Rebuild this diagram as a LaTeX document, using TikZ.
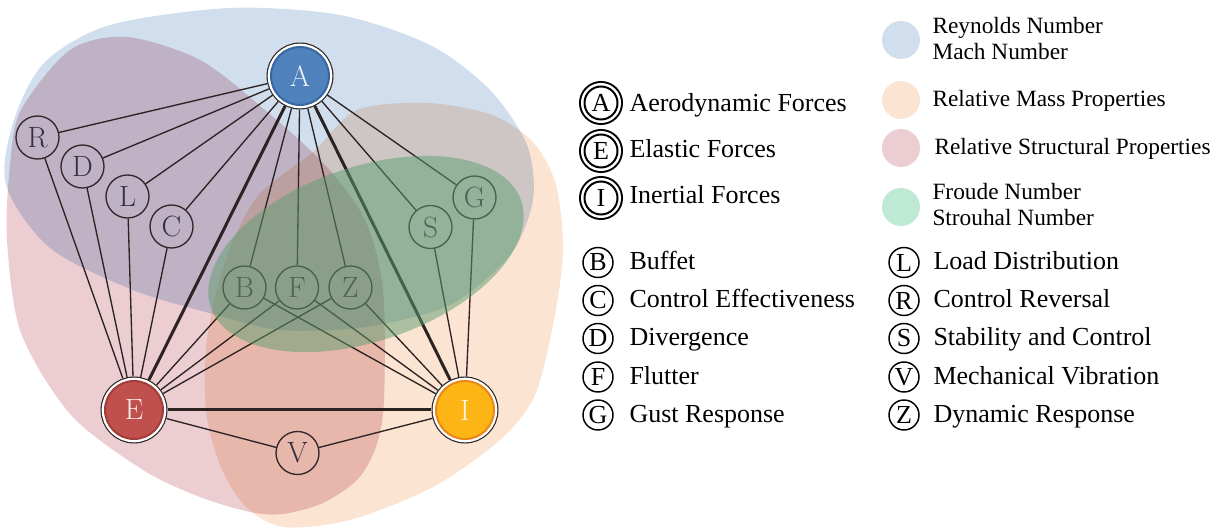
\documentclass[tikz,border=0pt]{standalone}
\usepackage{fontspec}
\newfontfamily\keyfont{Liberation Serif}

\definecolor{reyblue}{HTML}{D0DEEE}
\definecolor{massorange}{HTML}{FCE4D2}
\definecolor{structpink}{HTML}{EBCDD2}
\definecolor{froudegreen}{HTML}{BEE9D4}
\definecolor{froudeshade}{HTML}{5C9E70}
\definecolor{aerofill}{HTML}{4F81BD}
\definecolor{aeroedge}{HTML}{38679F}
\definecolor{elasfill}{HTML}{C0504D}
\definecolor{elasedge}{HTML}{A23C39}
\definecolor{inerfill}{HTML}{FDB515}
\definecolor{ineredge}{HTML}{EC8616}
\definecolor{linkcol}{HTML}{2B2222}
\definecolor{ringcol}{HTML}{2F2828}
\definecolor{lettercol}{HTML}{353040}

\tikzset{every picture/.style={line width=0.75pt}}

\begin{document}
\begin{tikzpicture}[x=0.75pt,y=0.75pt,yscale=-1,xscale=1,
  bignode/.style={circle, minimum size=43.5pt, inner sep=0pt, outer sep=3.4pt, line width=1.5pt,
    font=\fontsize{22}{26}\selectfont,
    preaction={draw=ringcol, line width=6.75pt}, preaction={draw=white, line width=4.95pt}},
  smallnode/.style={circle, draw=ringcol, line width=1pt, minimum size=32.25pt, inner sep=0pt,
    text=lettercol, font=\fontsize{22}{26}\selectfont},
  linkline/.style={draw=linkcol, line width=1pt},
  forceline/.style={draw=linkcol, line width=2.25pt},
  forcekey/.style={circle, draw=black, fill=white, line width=1.5pt, minimum size=24.75pt, inner sep=0pt,
    font=\keyfont\fontsize{19.5}{23}\selectfont,
    preaction={draw=black, line width=8.25pt}, preaction={draw=white, line width=5.25pt}},
  effectkey/.style={circle, draw=black, line width=1.1pt, minimum size=22.5pt, inner sep=0pt,
    font=\keyfont\fontsize{19.5}{23}\selectfont},
  groupkey/.style={circle, minimum size=28.5pt, inner sep=0pt},
  keytext/.style={anchor=base west, inner sep=0pt, font=\keyfont\fontsize{19.5}{23}\selectfont},
  grouptext/.style={anchor=base west, inner sep=0pt, font=\keyfont\fontsize{17.5}{21}\selectfont}
]
\useasboundingbox (0,0) rectangle (1220,530);

\begin{scope}[blend mode=multiply]
%Shape: Blob [structural]
\fill[structpink] plot[smooth cycle] coordinates {(127,37) (200,60) (265,110) (325,165) (365,220) (383,290) (384,400) (376,447) (357,480) (323,503) (283,514) (250,512) (200,497) (143,470) (71,415) (21,333) (7,240) (10,165) (21,110) (70,50)};
%Shape: Blob [reynolds / mach]
\fill[reyblue] plot[smooth cycle] coordinates {(6,185) (14,120) (45,62) (110,25) (230,8) (340,15) (430,45) (490,90) (527,145) (533,200) (510,255) (450,305) (365,327) (280,330) (213,314) (133,290) (50,248)};
%Shape: Blob [mass]
\fill[massorange] plot[smooth cycle] coordinates {(357,110) (428,103) (492,115) (533,142) (556,185) (563,250) (554,320) (535,395) (500,440) (433,487) (350,520) (283,527) (245,506) (220,465) (206,410) (207,340) (225,262) (257,197) (313,152)};
\end{scope}

% Force nodes
\node[bignode, fill=aerofill, draw=aeroedge, text=white!88!aerofill] (A) at (300,76) {A};
\node[bignode, fill=elasfill, draw=elasedge, text=white!88!elasfill] (E) at (134,410) {E};
\node[bignode, fill=inerfill, draw=ineredge, text=white!88!inerfill] (I) at (465,410) {I};

% Phenomenon nodes
\node[smallnode] (R) at (37.5,137.5) {R};
\node[smallnode] (D) at (82.5,166.5) {D};
\node[smallnode] (L) at (127.5,196.5) {L};
\node[smallnode] (C) at (171.5,226.5) {C};
\node[smallnode] (B) at (244.5,287.5) {B};
\node[smallnode] (F) at (297,287.5) {F};
\node[smallnode] (Z) at (350.5,287.5) {Z};
\node[smallnode] (S) at (430.5,227) {S};
\node[smallnode] (G) at (474.5,197.5) {G};
\node[smallnode] (V) at (297.5,453) {V};

%Straight Lines from A
\draw[linkline] (A) -- (R);
\draw[linkline] (A) -- (D);
\draw[linkline] (A) -- (L);
\draw[linkline] (A) -- (C);
\draw[linkline] (A) -- (B);
\draw[linkline] (A) -- (F);
\draw[linkline] (A) -- (Z);
\draw[linkline] (A) -- (S);
\draw[linkline] (A) -- (G);
%Straight Lines from E
\draw[linkline] (E) -- (R);
\draw[linkline] (E) -- (D);
\draw[linkline] (E) -- (L);
\draw[linkline] (E) -- (C);
\draw[linkline] (E) -- (B);
\draw[linkline] (E) -- (F);
\draw[linkline] (E) -- (Z);
\draw[linkline] (E) -- (V);
%Straight Lines from I
\draw[linkline] (I) -- (B);
\draw[linkline] (I) -- (F);
\draw[linkline] (I) -- (Z);
\draw[linkline] (I) -- (S);
\draw[linkline] (I) -- (G);
\draw[linkline] (I) -- (V);
%Straight Lines between forces
\draw[forceline] (A) -- (E);
\draw[forceline] (A) -- (I);
\draw[forceline] (E) -- (I);

%Shape: Ellipse [froude / strouhal]
\fill[froudeshade, fill opacity=0.5, rotate around={-19:(366,254)}] (366,254) ellipse [x radius=164, y radius=87];

% Legend: forces
\node[forcekey] (kA) at (601,103) {A};
\node[keytext] (tA) at (629,111.7) {Aerodynamic Forces};
\node[forcekey] (kE) at (601,151) {E};
\node[keytext] (tE) at (629,158) {Elastic Forces};
\node[forcekey] (kI) at (601,198) {I};
\node[keytext] (tI) at (629,204) {Inertial Forces};

% Legend: phenomena, left column
\node[effectkey] (kB) at (598,262.5) {B};
\node[keytext] (tB) at (629,269.5) {Buffet};
\node[effectkey] (kC) at (598,300.5) {C};
\node[keytext] (tC) at (629,307.7) {Control Effectiveness};
\node[effectkey] (kD) at (598,338.5) {D};
\node[keytext] (tD) at (629,346) {Divergence};
\node[effectkey] (kF) at (598,377) {F};
\node[keytext] (tF) at (629,385) {Flutter};
\node[effectkey] (kG) at (598,415) {G};
\node[keytext] (tG) at (629,423) {Gust Response};

% Legend: phenomena, right column
\node[effectkey] (kL) at (904,262.5) {L};
\node[keytext] (tL) at (933,269.5) {Load Distribution};
\node[effectkey] (kR) at (904,300.5) {R};
\node[keytext] (tR) at (933,307.7) {Control Reversal};
\node[effectkey] (kS) at (904,338.5) {S};
\node[keytext] (tS) at (933,346) {Stability and Control};
\node[effectkey] (kV) at (904,377) {V};
\node[keytext] (tV) at (933,385) {Mechanical Vibration};
\node[effectkey] (kZ) at (904,415) {Z};
\node[keytext] (tZ) at (933,423) {Dynamic Response};

% Legend: similarity groups
\node[groupkey, fill=reyblue] (gRe) at (901,40) {};
\node[grouptext] (tRe) at (932,33.5) {Reynolds Number};
\node[grouptext] (tMa) at (932,60) {Mach Number};
\node[groupkey, fill=massorange] (gMa) at (901,100) {};
\node[grouptext] (tMs) at (932,107) {Relative Mass Properties};
\node[groupkey, fill=structpink] (gSt) at (901,148) {};
\node[grouptext] (tSt) at (934,155) {Relative Structural Properties};
\node[groupkey, fill=froudegreen] (gFr) at (901,207) {};
\node[grouptext] (tFr) at (932,200) {Froude Number};
\node[grouptext] (tSr) at (932,226) {Strouhal Number};
\end{tikzpicture}
\end{document}
